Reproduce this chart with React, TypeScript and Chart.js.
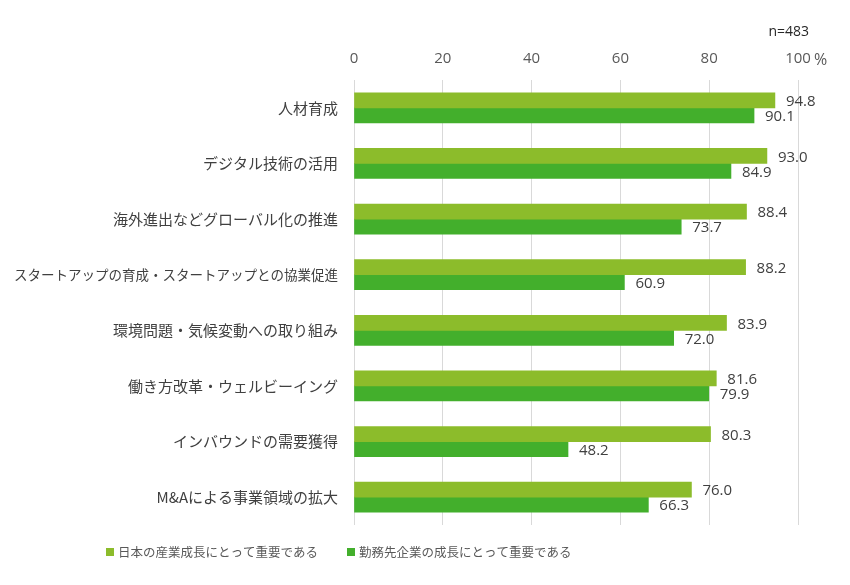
import React, { useEffect, useRef } from "react";
import { Chart, registerables } from "chart.js";

Chart.register(...registerables);

const categories = [
  "人材育成",
  "デジタル技術の活用",
  "海外進出などグローバル化の推進",
  "スタートアップの育成・スタートアップとの協業促進",
  "環境問題・気候変動への取り組み",
  "働き方改革・ウェルビーイング",
  "インバウンドの需要獲得",
  "M&Aによる事業領域の拡大",
];
const seriesNames = ["日本の産業成長にとって重要である", "勤務先企業の成長にとって重要である"];
const japanValues = [94.8, 93.0, 88.4, 88.2, 83.9, 81.6, 80.3, 76.0];
const companyValues = [90.1, 84.9, 73.7, 60.9, 72.0, 79.9, 48.2, 66.3];
const xTicks = [0, 20, 40, 60, 80, 100];
const sampleNote = "n=483";
const unitLabel = "%";

const colors = ["#8CBC2B", "#43AF2C"];
const JP = '"Noto Sans CJK JP", "Noto Sans", sans-serif';
const NUM = '"Open Sans", "Noto Sans", sans-serif';

const labelPlugin = {
  id: "customLabels",
  afterDatasetsDraw(chart: any) {
    const ctx = chart.ctx;
    ctx.save();
    ctx.font = `15px ${NUM}`;
    ctx.fillStyle = "#404040";
    ctx.textAlign = "left";
    ctx.textBaseline = "middle";
    chart.data.datasets.forEach((ds: any, di: number) => {
      const meta = chart.getDatasetMeta(di);
      meta.data.forEach((bar: any, i: number) => {
        ctx.fillText(Number(ds.data[i]).toFixed(1), bar.x + 11, bar.y + 1.5);
      });
    });
    // unit after the last tick
    const xs = chart.scales.x;
    ctx.fillStyle = "#595959";
    ctx.font = `16px ${NUM}`;
    ctx.fillText(unitLabel, xs.getPixelForValue(100) + 16, 60);
    // sample size
    ctx.fillStyle = "#262626";
    ctx.textAlign = "right";
    ctx.font = `14px ${NUM}`;
    ctx.fillText(sampleNote, 809, 32);
    // legend
    const items = [
      { x: 106, text: seriesNames[0], color: colors[0] },
      { x: 347, text: seriesNames[1], color: colors[1] },
    ];
    ctx.textAlign = "left";
    ctx.font = `12.5px ${JP}`;
    items.forEach((it) => {
      ctx.fillStyle = it.color;
      ctx.fillRect(it.x, 548, 8, 8);
      ctx.fillStyle = "#595959";
      ctx.fillText(it.text, it.x + 12, 552);
    });
    ctx.restore();
  },
};

export default function App() {
  const ref = useRef<HTMLCanvasElement>(null);
  useEffect(() => {
    if (!ref.current) return;
    const chart = new Chart(ref.current, {
      type: "bar",
      data: {
        labels: categories,
        datasets: [
          { label: seriesNames[0], data: japanValues, backgroundColor: colors[0], barThickness: 15 },
          { label: seriesNames[1], data: companyValues, backgroundColor: colors[1], barThickness: 15 },
        ],
      },
      options: {
        indexAxis: "y",
        animation: false,
        responsive: false,
        maintainAspectRatio: false,
        layout: { padding: { left: 0, right: 52, top: 0, bottom: 60 } },
        plugins: { legend: { display: false }, tooltip: { enabled: false } },
        scales: {
          x: {
            position: "top",
            min: 0,
            max: 100,
            afterBuildTicks: (scale: any) => {
              scale.ticks = xTicks.map((v) => ({ value: v }));
            },
            afterFit: (scale: any) => {
              scale.height = 80;
            },
            ticks: {
              padding: 12,
              color: "#595959",
              font: { family: NUM, size: 15 },
              callback: (v: any) => String(v),
            },
            grid: { color: "#D9D9D9", drawTicks: false },
            border: { display: false },
          },
          y: {
            afterFit: (scale: any) => {
              scale.width = 354;
            },
            ticks: {
              padding: 16,
              color: "#404040",
              font: (c: any) => {
                const label = categories[c.index] || "";
                return { family: JP, size: Math.min(15, 324 / Math.max(1, label.length)) };
              },
            },
            grid: { display: false, drawTicks: false },
            border: { display: false },
          },
        },
      },
      plugins: [labelPlugin],
    });
    return () => chart.destroy();
  }, []);
  return (
    <div style={{ position: "absolute", left: 0, top: 0, width: 850, height: 585, background: "#fff" }}>
      <canvas ref={ref} width={850} height={585} style={{ width: 850, height: 585 }} />
    </div>
  );
}
